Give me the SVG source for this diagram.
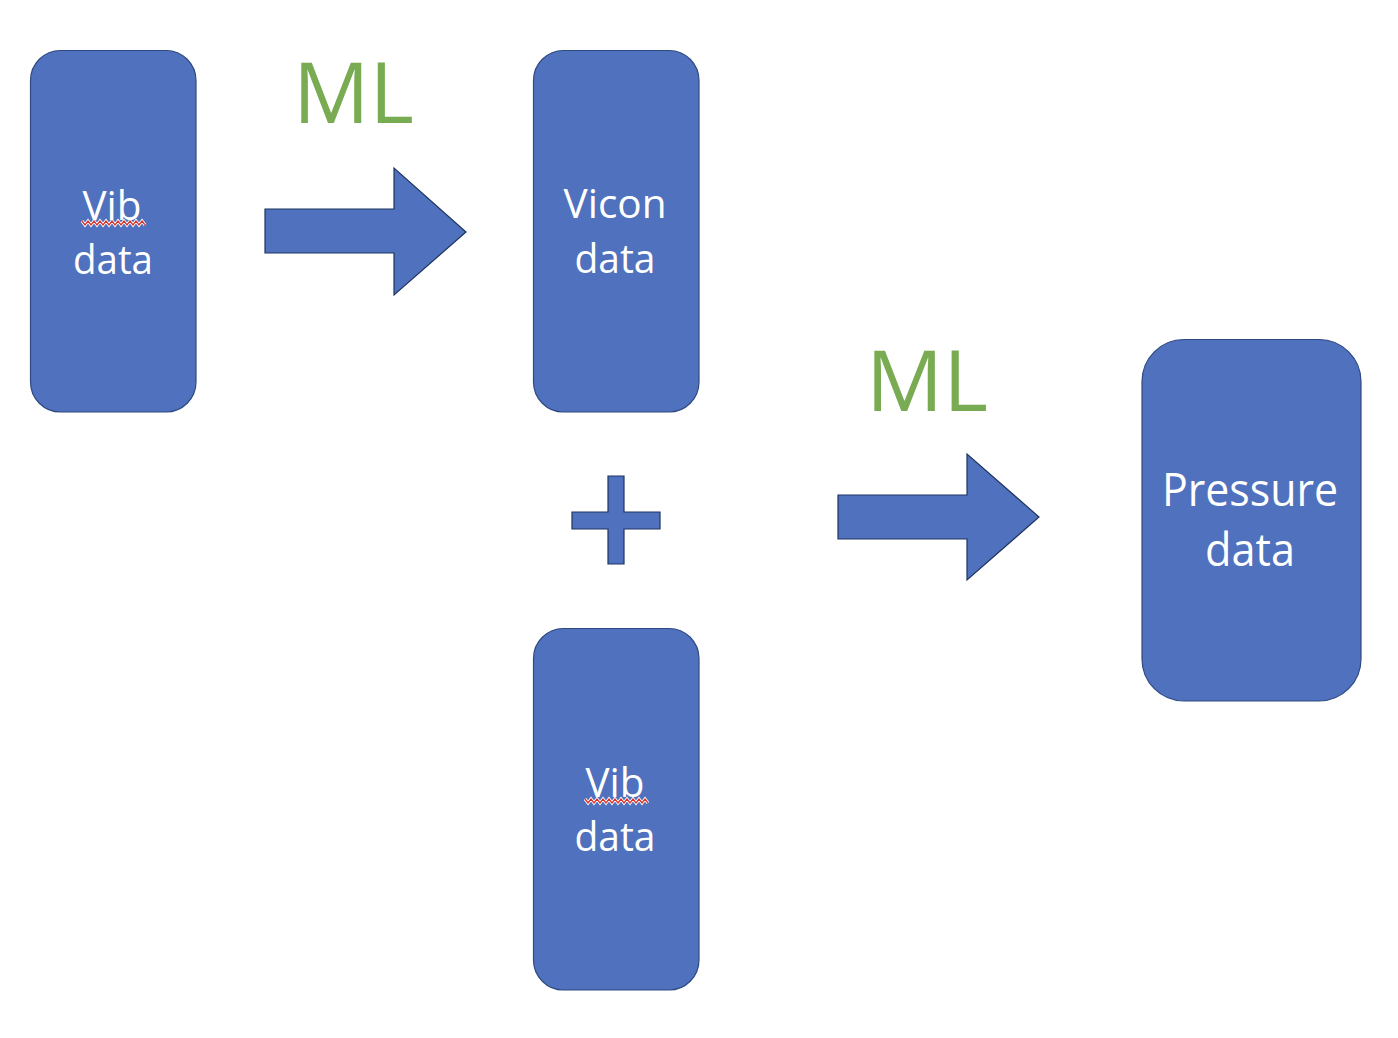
<svg xmlns="http://www.w3.org/2000/svg" width="1398" height="1038" viewBox="0 0 1398 1038">
<defs>
<style>
.box{fill:#4F71BE;stroke:#2F4A80;stroke-width:1.2}
.shape{fill:#4F71BE;stroke:#1F3560;stroke-width:1.2}
.lbl{font-family:"Open Sans","Liberation Sans",sans-serif;fill:#FFFFFF;text-anchor:middle}
.ml{font-family:"Open Sans","Liberation Sans",sans-serif;fill:#79AB53;font-size:85px}
.sqw{fill:none;stroke:#FFFFFF;stroke-width:3;stroke-linejoin:miter}
.sqr{fill:none;stroke:#D9312B;stroke-width:1.3}
</style>
</defs>
<rect width="1398" height="1038" fill="#FFFFFF"/>
<g id="node-vib1">
<rect class="box" x="30.5" y="50.5" width="165.5" height="361.5" rx="30" ry="30"/>
<text class="lbl" x="112" y="220" font-size="41" textLength="59" lengthAdjust="spacingAndGlyphs">Vib</text>
<polyline class="sqw" points="82,221 85,225 88,221 91,225 94,221 97,225 100,221 103,225 106,221 109,225 112,221 115,225 118,221 121,225 124,221 127,225 130,221 133,225 136,221 139,225 142,221 145,225"/>
<polyline class="sqr" points="82,221 85,225 88,221 91,225 94,221 97,225 100,221 103,225 106,221 109,225 112,221 115,225 118,221 121,225 124,221 127,225 130,221 133,225 136,221 139,225 142,221 145,225"/>
<text class="lbl" x="113" y="274" font-size="41" textLength="80" lengthAdjust="spacingAndGlyphs">data</text>
</g>
<g id="node-vicon">
<rect class="box" x="533.5" y="50.5" width="165.5" height="361.5" rx="30" ry="30"/>
<text class="lbl" x="615" y="218" font-size="41" textLength="103" lengthAdjust="spacingAndGlyphs">Vicon</text>
<text class="lbl" x="615" y="273" font-size="41" textLength="81" lengthAdjust="spacingAndGlyphs">data</text>
</g>
<g id="node-vib2">
<rect class="box" x="533.5" y="628.5" width="165.5" height="361.5" rx="30" ry="30"/>
<text class="lbl" x="615" y="797" font-size="41" textLength="59" lengthAdjust="spacingAndGlyphs">Vib</text>
<polyline class="sqw" points="585,799 588,803 591,799 594,803 597,799 600,803 603,799 606,803 609,799 612,803 615,799 618,803 621,799 624,803 627,799 630,803 633,799 636,803 639,799 642,803 645,799 648,803"/>
<polyline class="sqr" points="585,799 588,803 591,799 594,803 597,799 600,803 603,799 606,803 609,799 612,803 615,799 618,803 621,799 624,803 627,799 630,803 633,799 636,803 639,799 642,803 645,799 648,803"/>
<text class="lbl" x="615" y="851" font-size="41" textLength="81" lengthAdjust="spacingAndGlyphs">data</text>
</g>
<g id="node-pressure">
<rect class="box" x="1142" y="339.5" width="219" height="361.5" rx="42" ry="42"/>
<text class="lbl" x="1250" y="506" font-size="46" textLength="176" lengthAdjust="spacingAndGlyphs">Pressure</text>
<text class="lbl" x="1250" y="566" font-size="46" textLength="90" lengthAdjust="spacingAndGlyphs">data</text>
</g>
<g id="plus">
<polygon class="shape" points="608,476 624,476 624,512 660,512 660,529 624,529 624,564 608,564 608,529 572,529 572,512 608,512"/>
</g>
<g id="connectors">
<polygon class="shape" points="265,209 394,209 394,168 466,232 394,295 394,253 265,253"/>
<polygon class="shape" points="838,495 967,495 967,454 1039,517 967,580 967,539 838,539"/>
<text class="ml" x="293" y="123" textLength="121" lengthAdjust="spacingAndGlyphs">ML</text>
<text class="ml" x="866" y="411" textLength="122" lengthAdjust="spacingAndGlyphs">ML</text>
</g>
</svg>
